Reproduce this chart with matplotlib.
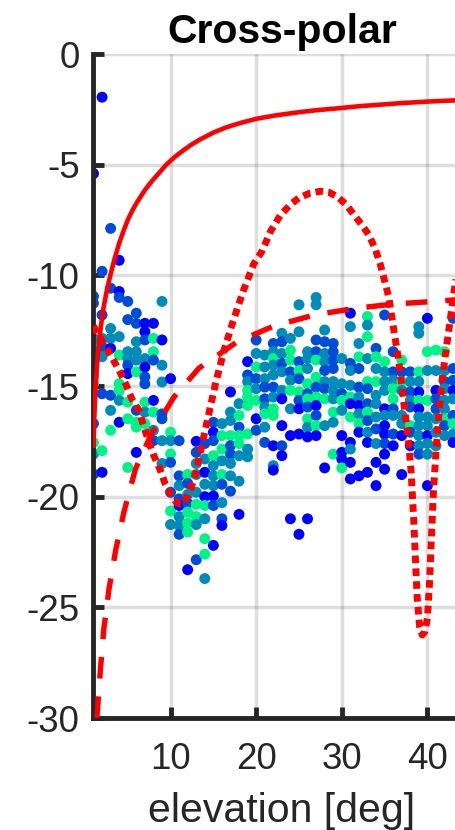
import matplotlib
matplotlib.use("Agg")
import matplotlib.pyplot as plt
import numpy as np

plt.rcParams["font.family"] = ["Liberation Sans", "DejaVu Sans"]
plt.rcParams["axes.unicode_minus"] = False

# measured cross-polar level per elevation bin (1..43 deg), one list per bin
scatter_db = [
    [-5.4, -10.95, -11.26, -12.85, -13.07, -13.3, -14.52, -14.9, -16.7, -17.55, -18.07, -18.98],
    [-1.95, -9.82, -11.79, -12.85, -13.23, -13.68, -15.35, -17.92, -18.9],
    [-7.88, -10.58, -12.4, -12.85, -13.3, -15.42, -16.1, -17.0],
    [-9.32, -10.73, -11.0, -12.77, -13.6, -14.9, -15.2, -15.65, -16.64],
    [-11.18, -12.0, -13.45, -13.76, -14.06, -14.44, -15.73, -16.48, -18.68],
    [-11.71, -12.17, -13.0, -13.45, -13.83, -14.36, -16.1, -16.64, -16.86, -18.0],
    [-12.17, -12.55, -12.92, -13.76, -14.14, -14.59, -14.9, -15.73, -16.18, -16.7],
    [-12.17, -12.85, -13.45, -13.83, -15.65, -16.18, -17.0, -17.47],
    [-11.18, -12.92, -14.06, -14.82, -16.26, -16.48, -17.47, -18.5],
    [-14.67, -17.09, -17.47, -18.07, -18.45, -19.8, -20.65, -21.26],
    [-17.47, -19.06, -19.5, -20.1, -20.4, -20.9, -21.3, -21.7],
    [-19.0, -19.4, -19.9, -20.3, -20.7, -21.2, -21.6, -23.3],
    [-17.5, -18.0, -18.5, -19.0, -19.8, -20.35, -20.9, -21.26, -22.85],
    [-17.6, -18.3, -18.9, -19.44, -20.0, -20.4, -21.0, -21.9, -22.6, -23.7],
    [-16.64, -17.09, -17.47, -18.15, -18.6, -19.06, -19.5, -19.97, -20.4, -22.2],
    [-16.7, -17.24, -17.85, -18.38, -19.0, -19.44, -20.27, -21.0, -21.3],
    [-15.27, -16.18, -16.56, -17.24, -17.7, -18.08, -18.5, -19.06, -19.75],
    [-15.8, -16.33, -16.86, -17.24, -17.6, -18.15, -19.3, -20.8],
    [-13.9, -14.5, -14.8, -15.2, -15.5, -15.88, -17.17, -17.85, -18.2],
    [-12.92, -13.53, -14.14, -14.67, -15.12, -15.65, -16.48, -17.0],
    [-13.6, -14.14, -14.67, -15.05, -15.58, -15.95, -16.26, -16.86, -17.55],
    [-13.08, -13.45, -13.76, -14.06, -14.5, -15.05, -15.5, -16.03, -16.33, -17.7, -18.6, -18.8],
    [-12.62, -13.0, -13.53, -13.98, -14.36, -15.2, -15.58, -16.79, -17.7, -18.15],
    [-12.85, -13.38, -13.83, -14.36, -14.74, -15.2, -16.03, -17.24, -21.0],
    [-11.33, -12.55, -13.9, -14.3, -14.67, -15.27, -15.65, -16.03, -17.17, -21.7],
    [-13.45, -13.76, -14.21, -14.9, -15.35, -15.58, -15.95, -16.48, -16.86, -17.3, -21.0],
    [-11.0, -11.33, -12.92, -13.45, -13.83, -14.6, -15.05, -15.5, -15.88, -16.33, -16.79, -17.24],
    [-12.47, -13.0, -13.53, -13.9, -14.3, -14.8, -15.12, -15.58, -16.79, -18.7],
    [-13.08, -13.45, -13.83, -14.21, -14.8, -15.2, -15.58, -16.18, -16.64, -18.08],
    [-13.76, -14.9, -15.35, -15.65, -16.1, -17.24, -18.0, -18.3, -18.7],
    [-11.71, -12.32, -13.98, -14.3, -14.97, -15.5, -15.8, -16.4, -17.55, -17.85, -18.45, -19.2],
    [-13.08, -13.68, -14.21, -15.05, -15.5, -15.88, -16.26, -16.7, -17.09, -19.06],
    [-11.86, -12.25, -12.77, -13.76, -14.8, -15.12, -15.8, -16.18, -16.56, -17.09, -17.55, -18.9],
    [-13.3, -13.68, -14.21, -14.8, -15.42, -15.8, -16.4, -16.94, -17.6, -18.45, -19.5],
    [-11.79, -13.9, -14.36, -14.8, -15.2, -16.03, -16.33, -16.79, -17.17, -17.6, -18.08, -18.76],
    [-13.45, -14.36, -14.74, -15.12, -15.58, -16.03, -16.33, -17.17, -17.7],
    [-13.83, -14.36, -14.8, -15.2, -16.33, -16.7, -17.24, -19.0],
    [-14.36, -14.8, -15.27, -15.65, -15.95, -16.79, -17.09, -17.7],
    [-12.32, -12.62, -14.36, -14.8, -15.27, -15.65, -16.03, -16.4, -16.79, -17.24, -17.7, -18.08],
    [-11.94, -13.45, -14.3, -15.65, -16.4, -16.79, -17.24, -17.6, -18.08, -19.5],
    [-13.38, -14.3, -15.2, -15.58, -16.03, -16.48, -17.09, -17.7],
    [-13.45, -14.3, -14.8, -15.12, -15.65, -16.03, -16.48, -16.79, -17.24],
    [-11.94, -14.21, -14.74, -15.2, -15.58, -16.33, -16.7, -17.17, -17.55],
]

# colour class of each point: b blue, B blue-cyan, t teal, g green
scatter_tone = [
    "bBBttgtgBgtB", "bBBtBtBgb", "BBttbBtg", "bbBtgggtb", "BBttBbggg",
    "BBtttgBggb", "bbBtbBBgtg", "bggBbgtB", "tbttBBtt", "bgtgBBgt",
    "BBtBbttB", "gBtBgggb", "bBtttggtB", "Btbtbgtggt", "BbBgtttbBb",
    "tggtgBtBb", "bttgBBttB", "tgBggttb", "bBtggggtt", "BtgBtgbB",
    "tttBBtgtB", "BtgttBtggbtb", "tBtBttbbBb", "tggBtgtbb", "ttBgBgBbbb",
    "tttgBgBgtbb", "ttBBggBgbBgb", "tBttBtBgtb", "BBBBtttgtg", "ttBgtbbbg",
    "btBttgbgbtbb", "tgBBtbtgbb", "gtgtgBBgBtbb", "BgtgtttBtbb", "BgtttbtbbBbb",
    "BBtggBtBb", "gBgtttbb", "BtBtBgBb", "ttgtbgbttttB", "bgtgttbttb",
    "gtbBBttt", "gtBtttgBt", "BBBbtBgtb",
]
tone_level = {"b": 0.0, "B": 0.3, "t": 0.55, "g": 0.95}

# model curves
solid_elev = [1.0, 1.1, 1.2, 1.4, 1.6, 1.9, 2.2, 2.6, 3.0, 3.5, 4.0, 4.5, 5.0, 5.5, 6.0, 6.5, 7.0,
              7.7, 8.6, 9.5, 10.5, 11.5, 12.5, 13.5, 15.0, 16.6, 18.3, 20.1, 22.5, 25.0, 27.0,
              29.1, 32.0, 36.9, 40.0, 43.5]
solid_db = [-17.7, -16.4, -15.4, -14.1, -13.2, -12.2, -11.4, -10.6, -9.95, -9.2, -8.55, -8.0, -7.5,
            -7.1, -6.75, -6.45, -6.15, -5.8, -5.4, -5.0, -4.65, -4.35, -4.08, -3.85, -3.55, -3.3,
            -3.1, -2.92, -2.76, -2.63, -2.54, -2.47, -2.36, -2.22, -2.15, -2.09]

dash_elev = [1.4, 1.8, 2.2, 2.8, 3.6, 4.55, 5.9, 7.85, 10.4, 13.3, 17.8, 22.0, 26.7, 31.4, 36.0, 41.1, 43.5]
dash_db = [-30.0, -27.85, -26.0, -24.2, -22.4, -20.7, -18.75, -17.1, -15.5, -14.2, -13.0, -12.3, -11.8, -11.5, -11.3, -11.17, -11.1]

dot_elev = [1.0, 1.24, 3.0, 4.0, 4.75, 5.5, 6.3, 6.85, 7.4, 8.0, 8.8, 9.4, 10.2, 10.8, 11.35, 11.8, 12.3,
            12.9, 13.7, 14.5, 15.25, 16.2, 17.2, 18.5, 19.7, 20.7, 21.7, 22.8, 24.0, 25.0, 26.2,
            27.5, 28.5, 29.5, 30.5, 31.5, 32.5, 33.2, 33.9, 34.5, 35.5, 36.05, 36.6, 37.0, 37.4,
            37.8, 38.1, 38.4, 38.6, 38.8, 39.1, 39.4, 39.7, 40.0, 40.25, 40.5, 40.7, 41.0, 41.3,
            41.7, 42.1, 42.6, 43.05, 43.5]
dot_db = [-12.3, -12.47, -13.6, -14.3, -14.9, -15.6, -16.1, -16.8, -17.45, -18.1, -18.8, -19.45, -20.05,
          -20.3, -20.35, -20.1, -19.7, -19.0, -17.6, -16.2, -14.9, -13.45, -12.2, -10.7, -9.5, -8.9,
          -8.0, -7.3, -6.8, -6.5, -6.3, -6.2, -6.25, -6.45, -6.8, -7.3, -7.8, -8.2, -8.8, -9.5,
          -11.0, -12.4, -13.75, -14.95, -16.25, -17.5, -18.9, -21.0, -22.8, -24.5, -25.9, -26.25,
          -26.1, -25.5, -23.9, -21.6, -19.8, -18.0, -16.5, -14.8, -13.6, -12.2, -10.9, -9.8]

ink = "#262626"

fig = plt.figure(figsize=(4.56, 8.30), dpi=100)
ax = fig.add_axes([93.5 / 456, 1 - 718 / 830, (470.2 - 93.5) / 456, (718 - 54) / 830])

elev = np.repeat(np.arange(1, len(scatter_db) + 1), [len(col) for col in scatter_db])
db = np.concatenate([np.array(col) for col in scatter_db])
level = [tone_level[ch] for col in scatter_tone for ch in col]
ax.scatter(elev, db, c=level, cmap="winter", vmin=0, vmax=1, s=62, linewidths=0, zorder=2)

ax.plot(solid_elev, solid_db, color="red", lw=3.3, zorder=3)
ax.plot(dash_elev, dash_db, color="red", lw=3.9, linestyle=(0, (4, 3.3)), zorder=3)
ax.plot(dot_elev, dot_db, color="red", lw=5.0, linestyle=(0, (1.1, 0.75)), zorder=3)

ax.set_xlim(1, 45)
ax.set_ylim(-30, 0)
ax.set_xticks([10, 20, 30, 40])
ax.set_yticks(np.arange(-30, 1, 5))

ax.grid(True, color=ink, alpha=0.15, lw=2.5)
ax.set_axisbelow(True)
for side in ["top", "right"]:
    ax.spines[side].set_visible(False)
for side in ["left", "bottom"]:
    ax.spines[side].set_linewidth(3.5)
    ax.spines[side].set_color(ink)
ax.tick_params(direction="in", length=8, width=3.5, color=ink, labelcolor=ink, labelsize=26.5)
ax.tick_params(axis="y", pad=10)
ax.tick_params(axis="x", pad=17)

ax.set_xlabel("elevation [deg]", fontsize=29.5, color=ink, labelpad=11)
ax.set_title("Cross-polar", fontsize=29.5, fontweight="bold", pad=8)

fig.savefig("out.png", dpi=100)
